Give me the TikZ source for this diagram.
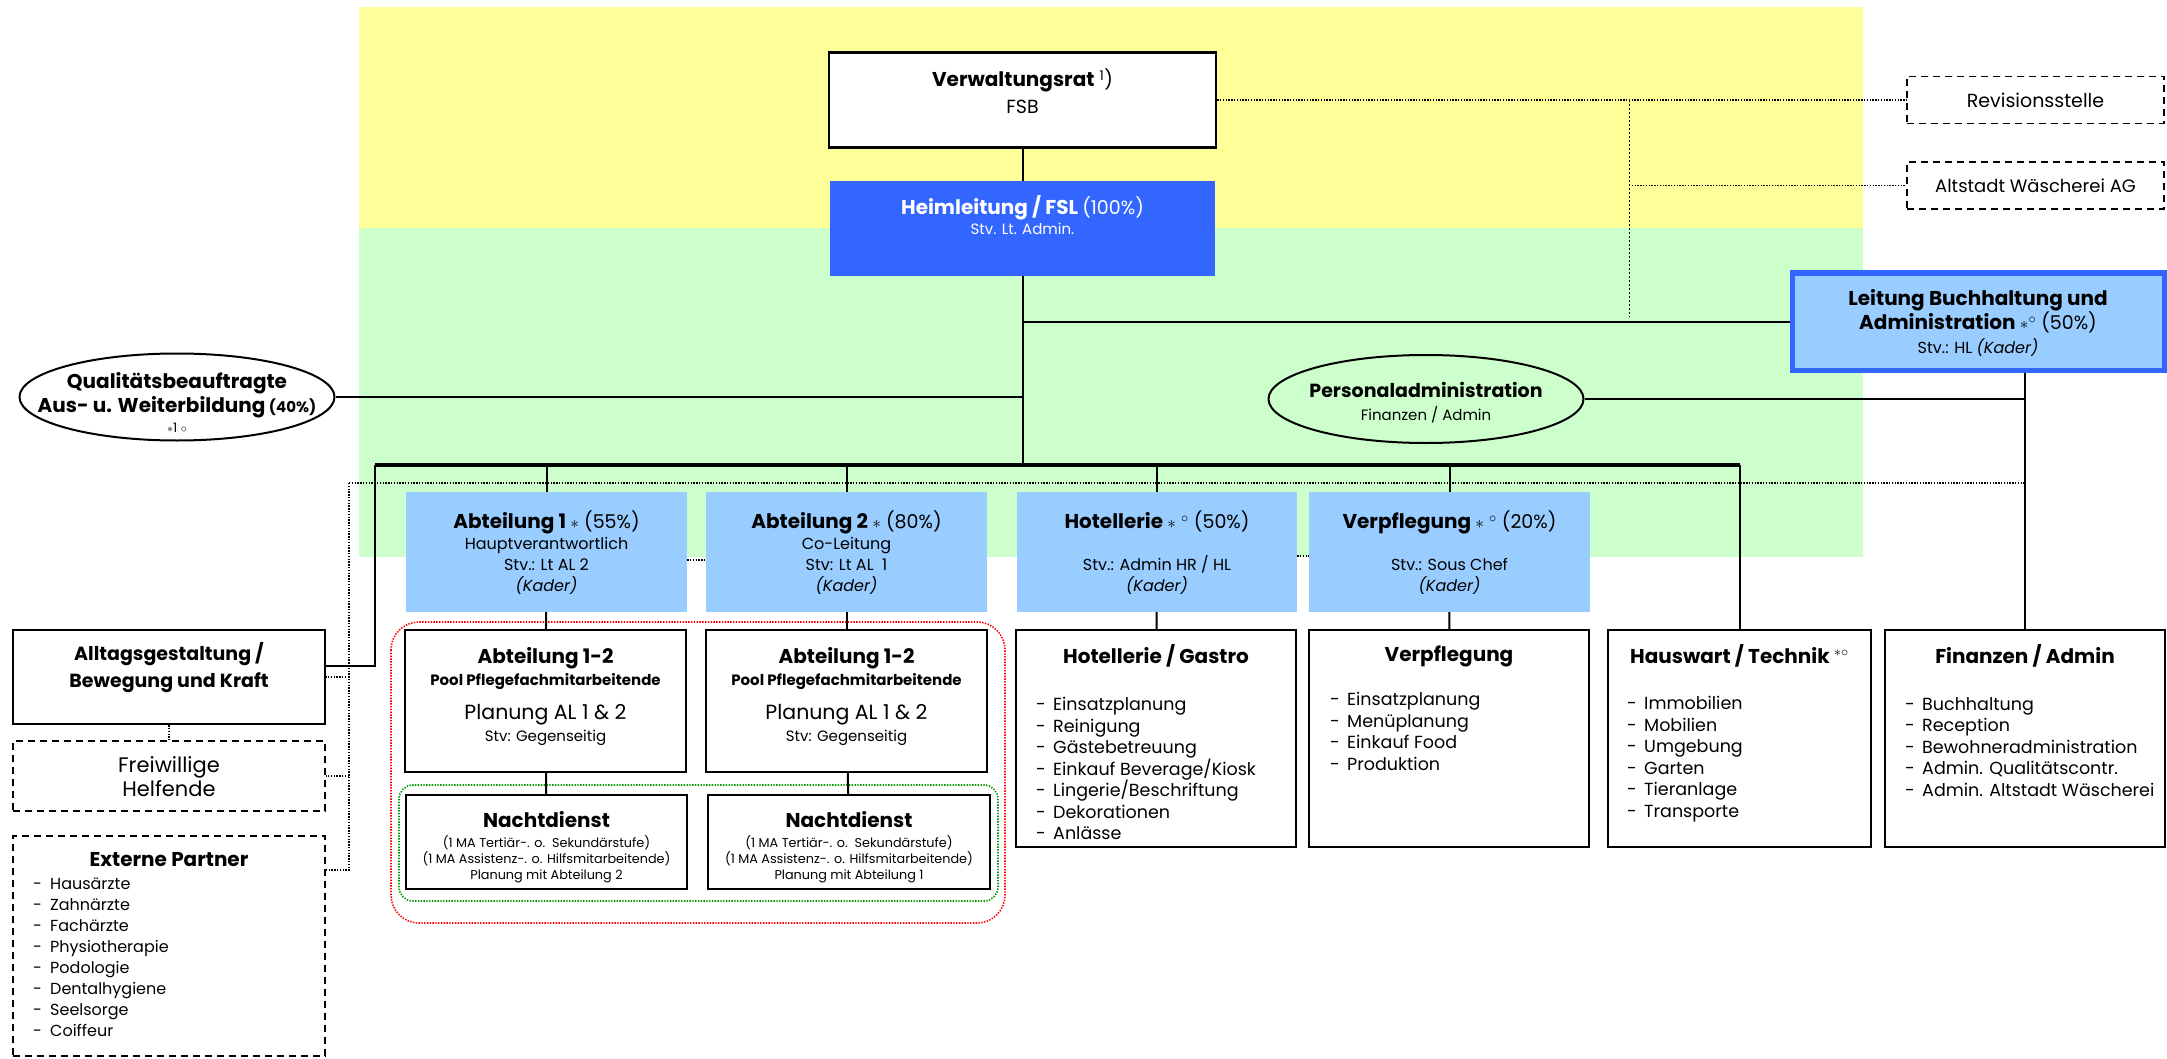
\documentclass[tikz,border=0pt]{standalone}
\usepackage{fontspec}
\setmainfont{Poppins}
\usepackage{xcolor}
\usetikzlibrary{positioning,shapes.geometric}

\definecolor{bandyellow}{HTML}{FFFF99}
\definecolor{bandgreen}{HTML}{CCFFCC}
\definecolor{leadblue}{HTML}{3366FF}
\definecolor{deptblue}{HTML}{99CCFF}
\definecolor{poolred}{HTML}{FF0000}
\definecolor{nightgreen}{HTML}{009900}

\newcommand{\ftitle}{\fontsize{20}{24}\selectfont\bfseries}
\newcommand{\fnorm}{\fontsize{19}{23}\selectfont}
\newcommand{\fsmall}{\fontsize{16}{20}\selectfont}
\newcommand{\ftiny}{\fontsize{12.8}{16}\selectfont}
\newcommand{\itm}[1]{\makebox[17pt][l]{-}#1}

\tikzset{
  orgbox/.style={draw, line width=2.2pt, fill=white, inner sep=0pt},
  deptbox/.style={fill=deptblue, inner sep=0pt},
  extbox/.style={draw, line width=1.8pt, dash pattern=on 7pt off 5pt, inner sep=0pt},
  oval/.style={ellipse, draw, line width=2pt, inner sep=0pt},
  txt/.style={align=center, inner sep=0pt},
  lst/.style={align=left, anchor=north west, inner sep=0pt, font=\fontsize{17.5}{21.5}\selectfont},
  link/.style={line width=2pt},
  bus/.style={line width=4pt},
  dotlink/.style={line width=1.6pt, dash pattern=on 1.4pt off 1.4pt},
  finelink/.style={line width=0.9pt, dash pattern=on 2pt off 2pt},
}

\begin{document}
\begin{tikzpicture}[x=1pt,y=-1pt]
\useasboundingbox (0,0) rectangle (2167,1059);
% Hintergrund
\fill[bandyellow] (359,7) rectangle (1863,228);
\fill[bandgreen] (359,228) rectangle (1863,557);
% Rahmen Pflege
\draw[dotlink, poolred, rounded corners=28pt] (391,622) rectangle (1005,923);
\draw[dotlink, nightgreen, rounded corners=14pt] (399,785) rectangle (998,901);

% Leitungsebene
\node[orgbox, minimum width=387pt, minimum height=95pt] (vr) at (1022.5,100) {};
\node[txt, font=\fontsize{19}{27}\selectfont] (vrt) at (1022.5,91)
  {{\ftitle Verwaltungsrat} \textsuperscript{1})\\FSB};
\node[fill=leadblue, inner sep=0pt, minimum width=385pt, minimum height=95pt] (hl) at (1022.5,228.5) {};
\node[txt, text=white, font=\fontsize{15}{20}\selectfont] (hlt) at (1022.5,215)
  {{\ftitle Heimleitung / FSL} {\fnorm (100\%)}\\Stv. Lt. Admin.};
\node[draw=leadblue, line width=5pt, fill=deptblue, inner sep=0pt, minimum width=372pt, minimum height=97pt] (lb) at (1978,321.5) {};
\node[txt, font=\fontsize{16}{24}\selectfont] (lbt) at (1978,323)
  {{\ftitle Leitung Buchhaltung und}\\{\ftitle Administration} {\fnorm$\ast^{\circ}$ (50\%)}\\Stv.: HL \textit{(Kader)}};
\node[extbox, minimum width=257pt, minimum height=47pt, font=\fnorm] (rev) at (2035.5,100) {Revisionsstelle};
\node[extbox, minimum width=257pt, minimum height=47pt, font=\fontsize{18}{22}\selectfont] (aw) at (2035.5,185.5) {Altstadt Wäscherei AG};

% Stabsstellen
\node[oval, minimum width=315pt, minimum height=88pt] (pa) at (1426,399) {};
\node[txt, font=\fontsize{15}{23}\selectfont] (pat) at (1426,403) {{\bfseries\fontsize{19}{23}\selectfont Personaladministration}\\Finanzen / Admin};
\node[oval, minimum width=315pt, minimum height=87pt] (qb) at (177,397) {};
\node[txt, font=\fontsize{13}{24}\selectfont] (qbt) at (177,402)
  {{\ftitle Qualitätsbeauftragte}\\{\ftitle Aus- u. Weiterbildung} {\bfseries\fontsize{15}{18}\selectfont (40\%)}\\[-4pt]$\ast$1 $\circ$};

% Abteilungsleitungen
\node[deptbox, minimum width=281pt, minimum height=120pt] (a1) at (546.5,552) {};
\node[txt, font=\fontsize{16}{21}\selectfont] (a1t) at (546.5,553)
  {{\ftitle Abteilung 1} {\fnorm$\ast$ (55\%)}\\Hauptverantwortlich\\Stv.: Lt AL 2\\\textit{(Kader)}};
\node[deptbox, minimum width=281pt, minimum height=120pt] (a2) at (846.5,552) {};
\node[txt, font=\fontsize{16}{21}\selectfont] (a2t) at (846.5,553)
  {{\ftitle Abteilung 2} {\fnorm$\ast$ (80\%)}\\Co-Leitung\\Stv: Lt AL\ \ 1\\\textit{(Kader)}};
\node[deptbox, minimum width=280pt, minimum height=120pt] (ho) at (1157,552) {};
\node[txt, font=\fontsize{16}{21}\selectfont] (hot) at (1157,553)
  {{\ftitle Hotellerie} {\fnorm$\ast$ $^{\circ}$ (50\%)}\\\mbox{}\\Stv.: Admin HR / HL\\\textit{(Kader)}};
\node[deptbox, minimum width=281pt, minimum height=120pt] (ve) at (1449.5,552) {};
\node[txt, font=\fontsize{16}{21}\selectfont] (vet) at (1449.5,553)
  {{\ftitle Verpflegung} {\fnorm$\ast$ $^{\circ}$ (20\%)}\\\mbox{}\\Stv.: Sous Chef\\\textit{(Kader)}};

% Pool und Nachtdienst
\node[orgbox, minimum width=281pt, minimum height=142pt] (p1) at (545.5,701) {};
\node[txt, font=\fontsize{15}{22}\selectfont] (p1t) at (545.5,697)
  {{\ftitle Abteilung 1-2}\\{\bfseries\fontsize{15}{18}\selectfont Pool Pflegefachmitarbeitende}\\[12pt]{\fontsize{20.5}{24}\selectfont Planung AL 1 \& 2}\\Stv: Gegenseitig};
\node[orgbox, minimum width=281pt, minimum height=142pt] (p2) at (846.5,701) {};
\node[txt, font=\fontsize{15}{22}\selectfont] (p2t) at (846.5,697)
  {{\ftitle Abteilung 1-2}\\{\bfseries\fontsize{15}{18}\selectfont Pool Pflegefachmitarbeitende}\\[12pt]{\fontsize{20.5}{24}\selectfont Planung AL 1 \& 2}\\Stv: Gegenseitig};
\node[orgbox, minimum width=281pt, minimum height=94pt] (n1) at (546.5,842) {};
\node[txt, font=\ftiny] (n1t) at (546.5,847)
  {{\ftitle Nachtdienst}\\[4pt](1 MA Tertiär-. o.\ \ Sekundärstufe)\\(1 MA Assistenz-. o. Hilfsmitarbeitende)\\Planung mit Abteilung 2};
\node[orgbox, minimum width=282pt, minimum height=94pt] (n2) at (849,842) {};
\node[txt, font=\ftiny] (n2t) at (849,847)
  {{\ftitle Nachtdienst}\\[4pt](1 MA Tertiär-. o.\ \ Sekundärstufe)\\(1 MA Assistenz-. o. Hilfsmitarbeitende)\\Planung mit Abteilung 1};

% linke Spalte
\node[orgbox, minimum width=312pt, minimum height=94pt] (al) at (169,677) {};
\node[txt, font=\fontsize{19}{27}\selectfont\bfseries] (alt) at (169,668) {Alltagsgestaltung /\\Bewegung und Kraft};
\node[extbox, minimum width=312pt, minimum height=70pt] (fw) at (169,776) {};
\node[txt, font=\fontsize{21}{24}\selectfont] (fwt) at (169,777) {Freiwillige\\Helfende};
\node[extbox, minimum width=312pt, minimum height=220pt] (ep) at (169,946) {};
\node[txt, font=\ftitle] (ept) at (169,860) {Externe Partner};
\node[lst, font=\fontsize{16}{21}\selectfont] (epl) at (33,878) {\itm{Hausärzte}\\\itm{Zahnärzte}\\\itm{Fachärzte}\\\itm{Physiotherapie}\\\itm{Podologie}\\\itm{Dentalhygiene}\\\itm{Seelsorge}\\\itm{Coiffeur}};

% Bereiche unten
\node[orgbox, minimum width=280pt, minimum height=217pt] (hg) at (1156,738.5) {};
\node[txt, font=\ftitle] (hgt) at (1156,656) {Hotellerie / Gastro};
\node[lst] (hgl) at (1036,697) {\itm{Einsatzplanung}\\\itm{Reinigung}\\\itm{Gästebetreuung}\\\itm{Einkauf Beverage/Kiosk}\\\itm{Lingerie/Beschriftung}\\\itm{Dekorationen}\\\itm{Anlässe}};
\node[orgbox, minimum width=280pt, minimum height=217pt] (vp) at (1449,738.5) {};
\node[txt, font=\ftitle] (vpt) at (1449,656) {Verpflegung};
\node[lst] (vpl) at (1330,692) {\itm{Einsatzplanung}\\\itm{Menüplanung}\\\itm{Einkauf Food}\\\itm{Produktion}};
\node[orgbox, minimum width=263pt, minimum height=217pt] (hw) at (1739.5,738.5) {};
\node[txt, font=\ftitle] (hwt) at (1739.5,656) {Hauswart / Technik {\mdseries\textsuperscript{$\ast\circ$}}};
\node[lst] (hwl) at (1627,696) {\itm{Immobilien}\\\itm{Mobilien}\\\itm{Umgebung}\\\itm{Garten}\\\itm{Tieranlage}\\\itm{Transporte}};
\node[orgbox, minimum width=280pt, minimum height=217pt] (fa) at (2025,738.5) {};
\node[txt, font=\ftitle] (fat) at (2025,656) {Finanzen / Admin};
\node[lst] (fal) at (1905,697) {\itm{Buchhaltung}\\\itm{Reception}\\\itm{Bewohneradministration}\\\itm{Admin. Qualitätscontr.}\\\itm{Admin. Altstadt Wäscherei}};

% Linien
\coordinate (busL) at (375,465);
\coordinate (alJ) at (375,666);
\coordinate (revJ) at (1629,100);
\coordinate (revEnd) at (1629,317);
\coordinate (dotL) at (349,483);
\coordinate (epJ) at (349,870);
\draw[link] (vr) -- (hl);
\draw[link] (hl.south) -- (hl.south |- busL);
\draw[bus] (busL) -- (busL -| hw.north);
\draw[link] (busL -| hw.north) -- (hw.north);
\draw[link] (hl.south |- lb.west) -- (lb.west);
\draw[link] (qb.east) -- (qb.east -| hl.south);
\draw[link] (pa.east) -- (pa.east -| fa.north);
\draw[link] (lb.south -| fa.north) -- (fa.north);
\draw[link] (busL) -- (alJ) -- (alJ -| al.east);
\foreach \n in {a1,a2,ho,ve}
  \draw[link] (busL -| \n.north) -- (\n.north);
\draw[link] (a1) -- (p1);
\draw[link] (a2) -- (p2);
\draw[link] (p1) -- (n1);
\draw[link] (p2) -- (n2);
\draw[link] (ho) -- (hg);
\draw[link] (ve) -- (vp);
% gepunktete Linien
\draw[dotlink] (vr.east) -- (rev.west);
\draw[finelink] (revJ) -- (revEnd);
\draw[dotlink] (revJ |- aw.west) -- (aw.west);
\draw[dotlink] (dotL) -- (dotL -| fa.north);
\draw[dotlink] (dotL) -- (epJ) -- (epJ -| ep.east);
\draw[dotlink] (dotL |- al.east) -- (al.east);
\draw[dotlink] (dotL |- fw.east) -- (fw.east);
\draw[dotlink] (al.south) -- (fw.north);
\draw[dotlink] ([yshift=-8pt]a1.east) -- ([yshift=-8pt]a2.west);
\draw[dotlink] ([yshift=-4pt]ho.east) -- ([yshift=-4pt]ve.west);
\end{tikzpicture}
\end{document}
